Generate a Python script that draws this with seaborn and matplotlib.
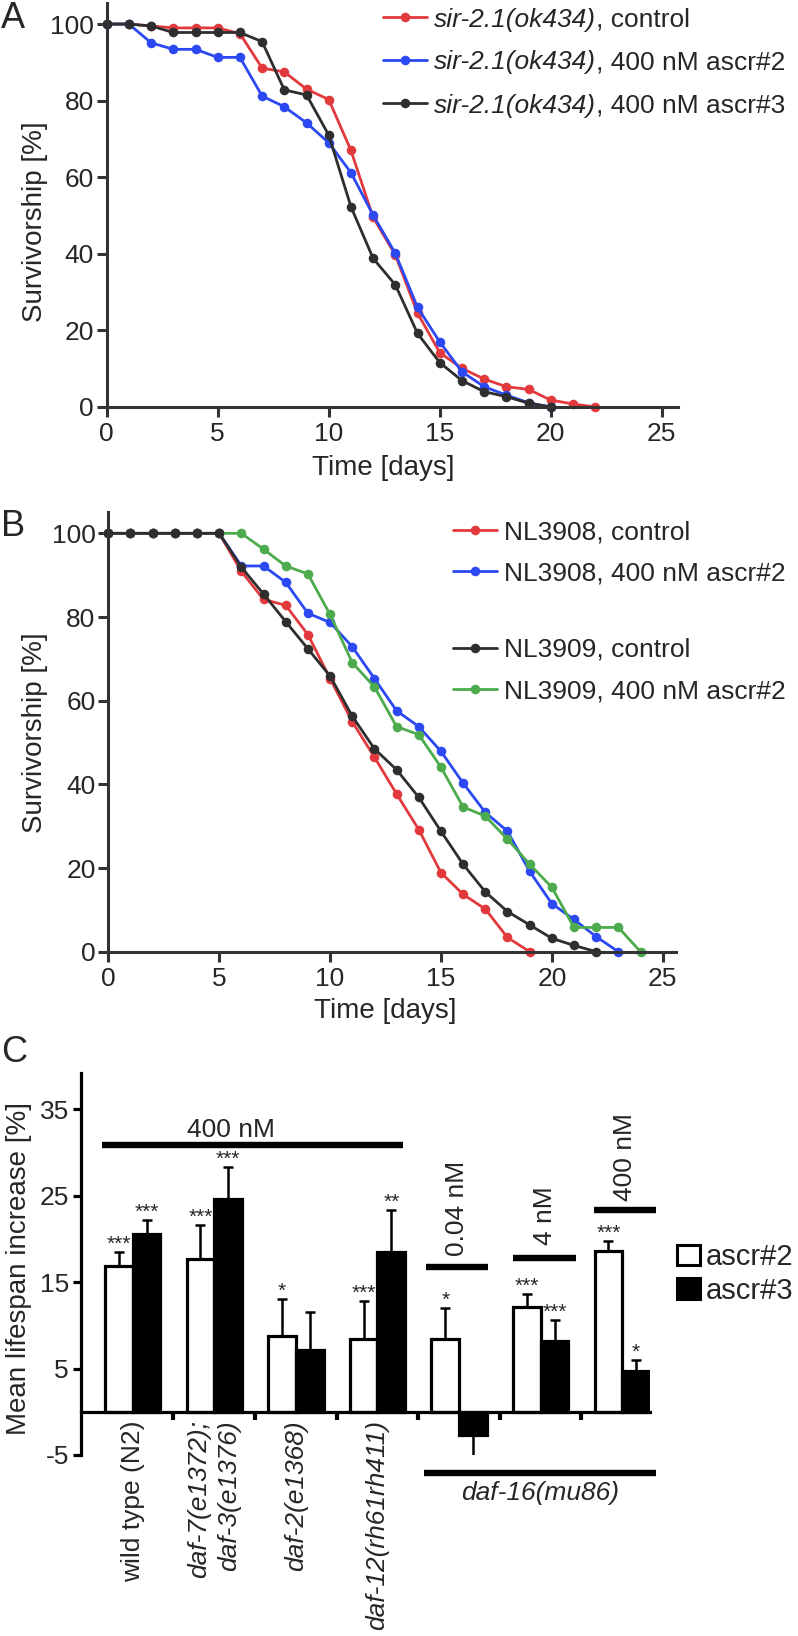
import pandas as pd
import matplotlib
matplotlib.use('Agg')
import matplotlib.pyplot as plt
import seaborn as sns
from matplotlib.lines import Line2D
from matplotlib.patches import Patch

sns.set_style('ticks')
plt.rcParams['font.family'] = ['Liberation Sans', 'DejaVu Sans']
plt.rcParams['axes.unicode_minus'] = False

# Panel A: sir-2.1(ok434) survival curves
days_a_ctrl = list(range(0, 23))
sir_control = [100, 100, 99.5, 99, 99, 99, 97.5, 88.5, 87.5, 83, 80.3, 67, 49.5,
               39.7, 24.5, 14.2, 10.1, 7.3, 5.3, 4.6, 1.8, 0.8, 0]
days_a = list(range(0, 21))
sir_ascr2 = [100, 100, 95.1, 93.4, 93.4, 91.3, 91.3, 81.2, 78.4, 74.2, 69, 61.2,
             50.1, 40.1, 26, 17, 9.2, 5.3, 3.1, 1.1, 0]
sir_ascr3 = [100, 100, 99.5, 97.8, 97.8, 97.8, 97.8, 95.4, 82.8, 81.5, 71, 52.3,
             38.8, 31.9, 19.2, 11.6, 6.9, 4, 2.7, 1, 0]

# Panel B: NL3908 / NL3909 survival curves
nl3908_ctrl = [100, 100, 100, 100, 100, 100, 90.9, 84.2, 82.8, 75.8, 65.3, 55,
               46.5, 37.7, 29.2, 18.9, 13.7, 10.2, 3.4, 0]
nl3908_ascr2 = [100, 100, 100, 100, 100, 100, 92.2, 92.2, 88.3, 80.9, 78.7, 72.9,
                65.3, 57.6, 53.8, 47.9, 40.3, 33.3, 28.8, 19.2, 11.5, 7.7, 3.6, 0]
nl3909_ctrl = [100, 100, 100, 100, 100, 100, 91.9, 85.5, 78.9, 72.4, 65.9, 56.3,
               48.5, 43.5, 36.9, 28.8, 20.9, 14.3, 9.6, 6.4, 3.2, 1.5, 0]
nl3909_ascr2 = [100, 100, 100, 100, 100, 100, 100, 96.2, 92.2, 90.3, 80.6, 69.1,
                63.3, 53.8, 51.9, 44.1, 34.6, 32.4, 26.9, 20.9, 15.4, 5.8, 5.8, 5.8, 0]

# Panel C: mean lifespan increase
groups = ['wild type (N2)', 'daf-7(e1372);\ndaf-3(e1376)', 'daf-2(e1368)',
          'daf-12(rh61rh411)', 'daf-16 0.04 nM', 'daf-16 4 nM', 'daf-16 400 nM']
tick_labels = ['wild type (N2)', 'daf-7(e1372);\ndaf-3(e1376)', 'daf-2(e1368)',
               'daf-12(rh61rh411)']
ascr2_mean = [16.9, 17.7, 8.8, 8.4, 8.4, 12.1, 18.6]
ascr2_err = [1.6, 3.9, 4.3, 4.4, 3.6, 1.5, 1.2]
ascr3_mean = [20.6, 24.6, 7.1, 18.5, -2.7, 8.2, 4.7]
ascr3_err = [1.6, 3.7, 4.5, 4.8, 2.6, 2.4, 1.3]
ascr2_stars = ['***', '***', '*', '***', '*', '***', '***']
ascr3_stars = ['***', '***', '', '**', '', '***', '*']

RED = '#e23a3c'
BLUE = '#2b48f2'
DARK = '#2e2e2e'
GREEN = '#4cab4c'
AXC = '#333333'

W, H = 798, 1636
fig = plt.figure(figsize=(W / 100, H / 100), dpi=100)
axA = fig.add_axes([106.7 / W, 1 - 407 / H, (678 - 106.7) / W, 404 / H])
axB = fig.add_axes([108.3 / W, 1 - 951.7 / H, (676 - 108.3) / W, (951.7 - 512) / H])
axC = fig.add_axes([80.7 / W, 1 - 1455 / H, (650 - 80.7) / W, (1455 - 1073) / H])

line_kw = dict(marker='o', markersize=6.9, markeredgewidth=0, linewidth=2.0, clip_on=False)

# --- A
sns.lineplot(x=days_a_ctrl, y=sir_control, color=RED, ax=axA, **line_kw)
sns.lineplot(x=days_a, y=sir_ascr2, color=BLUE, ax=axA, **line_kw)
sns.lineplot(x=days_a, y=sir_ascr3, color=DARK, ax=axA, **line_kw)

# --- B
sns.lineplot(x=list(range(len(nl3908_ctrl))), y=nl3908_ctrl, color=RED, ax=axB, **line_kw)
sns.lineplot(x=list(range(len(nl3908_ascr2))), y=nl3908_ascr2, color=BLUE, ax=axB, **line_kw)
sns.lineplot(x=list(range(len(nl3909_ascr2))), y=nl3909_ascr2, color=GREEN, ax=axB, **line_kw)
sns.lineplot(x=list(range(len(nl3909_ctrl))), y=nl3909_ctrl, color=DARK, ax=axB, **line_kw)

for ax, xmax, ymax in [(axA, 25.73, 105.5), (axB, 25.6, 105.1)]:
    ax.set_xlim(0, xmax)
    ax.set_ylim(0, ymax)
    ax.set_xticks([0, 5, 10, 15, 20, 25])
    ax.set_yticks([0, 20, 40, 60, 80, 100])
    for s in ['top', 'right']:
        ax.spines[s].set_visible(False)
    for s in ['left', 'bottom']:
        ax.spines[s].set_linewidth(2.2)
        ax.spines[s].set_color(AXC)
    ax.tick_params(axis='both', length=7.2, width=2.2, color=AXC, labelsize=19)
    ax.tick_params(axis='x', pad=3.6)
    ax.tick_params(axis='y', pad=2.0)
    ax.set_xlabel('Time [days]', fontsize=20)
    ax.set_ylabel('Survivorship [%]', fontsize=20)

axA.yaxis.set_label_coords(-0.1027, 0.459)
axA.xaxis.set_label_coords(0.484, -0.119)
axB.yaxis.set_label_coords(-0.106, 0.498)
axB.xaxis.set_label_coords(0.488, -0.106)

def handle(c):
    return Line2D([], [], color=c, marker='o', markersize=6.9, markeredgewidth=0, linewidth=2.0)

leg_kw = dict(loc='upper left', bbox_transform=fig.transFigure, frameon=False,
              fontsize=19, handlelength=1.67, handletextpad=0.25,
              borderpad=0, borderaxespad=0)

# legend A: italic strain name followed by upright treatment text
legA = axA.legend([handle(RED), handle(BLUE), handle(DARK)], ['sir-2.1(ok434)'] * 3,
                  bbox_to_anchor=(383 / W, 1 - 7.5 / H), labelspacing=0.72, **leg_kw)
for t, rest in zip(legA.get_texts(), [', control', ', 400 nM ascr#2', ', 400 nM ascr#3']):
    t.set_fontstyle('italic')
    axA.annotate(rest, xy=(1, 0), xycoords=t, ha='left', va='bottom', fontsize=19,
                 annotation_clip=False, zorder=6)

leg1 = axB.legend([handle(RED), handle(BLUE)], ['NL3908, control', 'NL3908, 400 nM ascr#2'],
                  bbox_to_anchor=(453 / W, 1 - 520.5 / H), labelspacing=0.65, **leg_kw)
axB.add_artist(leg1)
axB.legend([handle(DARK), handle(GREEN)], ['NL3909, control', 'NL3909, 400 nM ascr#2'],
           bbox_to_anchor=(453 / W, 1 - 638 / H), labelspacing=0.65, **leg_kw)

# --- C
df = pd.DataFrame({'group': groups * 2,
                   'value': ascr2_mean + ascr3_mean,
                   'treatment': ['ascr#2'] * len(groups) + ['ascr#3'] * len(groups)})
sns.barplot(data=df, x='group', y='value', hue='treatment', order=groups,
            hue_order=['ascr#2', 'ascr#3'], palette={'ascr#2': 'white', 'ascr#3': 'black'},
            saturation=1, edgecolor='black', linewidth=2.3, width=0.68, errorbar=None,
            legend=False, ax=axC)

off = 0.17
for i in range(len(groups)):
    for dx, m, e, st in [(-off, ascr2_mean[i], ascr2_err[i], ascr2_stars[i]),
                         (off, ascr3_mean[i], ascr3_err[i], ascr3_stars[i])]:
        lo, hi = (e, 0) if m < 0 else (0, e)
        axC.errorbar(i + dx, m, yerr=[[lo], [hi]], fmt='none', ecolor='black',
                     elinewidth=1.8, capsize=3.5, capthick=1.8, zorder=1)
        if st:
            axC.text(i + dx, m + e + 0.25, st, ha='center', va='baseline', fontsize=15)

axC.set_xlim(-0.637, 6.34)
axC.set_ylim(-5, 39.2)
axC.set_yticks([-5, 5, 15, 25, 35])
axC.spines['bottom'].set_position(('data', 0))
for s in ['top', 'right']:
    axC.spines[s].set_visible(False)
for s in ['left', 'bottom']:
    axC.spines[s].set_linewidth(2.3)
    axC.spines[s].set_color('black')
axC.set_xticks([0.5, 1.5, 2.5, 3.5, 4.5, 5.5])
axC.set_xticklabels([''] * 6)
axC.set_xticks([0, 1, 2, 3], labels=tick_labels, minor=True)
axC.tick_params(axis='x', which='major', length=6, width=3, color='black')
axC.tick_params(axis='x', which='minor', length=0, pad=6, labelsize=19, labelrotation=90)
axC.tick_params(axis='y', length=6, width=2.3, color='black', pad=2.5, labelsize=19)
for k, lbl in enumerate(axC.get_xticklabels(minor=True)):
    lbl.set_va('top')
    lbl.set_ha('center')
    lbl.set_multialignment('right')
    lbl.set_linespacing(1.3)
    if k > 0:
        lbl.set_fontstyle('italic')
axC.set_xlabel('')
axC.set_ylabel('Mean lifespan increase [%]', fontsize=20)
axC.yaxis.set_label_coords(-0.086, 0.488)

bar_kw = dict(color='black', linewidth=4.6, solid_capstyle='butt', clip_on=False)
axC.plot([-0.38, 3.31], [30.9, 30.9], **bar_kw)
axC.text(1.2, 31.85, '400 nM', ha='center', va='baseline', fontsize=19)
for x0, x1, y, xt, yt, txt in [(3.60, 4.35, 16.8, 3.97, 18.0, '0.04 nM'),
                               (4.66, 5.43, 17.8, 5.05, 19.3, '4 nM'),
                               (5.65, 6.41, 23.3, 6.03, 24.4, '400 nM')]:
    axC.plot([x0, x1], [y, y], **bar_kw)
    axC.text(xt, yt, txt, rotation=90, ha='center', va='bottom', fontsize=19)
axC.plot([3.57, 6.41], [-7.06, -7.06], **bar_kw)
axC.text(4.99, -9.4, 'daf-16(mu86)', ha='center', va='center', fontsize=19,
         fontstyle='italic', clip_on=False)

axC.legend([Patch(facecolor='white', edgecolor='black', linewidth=2.2),
            Patch(facecolor='black', edgecolor='black', linewidth=2.2)],
           ['ascr#2', 'ascr#3'], loc='upper left', bbox_to_anchor=(677 / W, 1 - 1243 / H),
           bbox_transform=fig.transFigure, frameon=False, fontsize=21,
           handlelength=0.8, handleheight=0.7, handletextpad=0.2, labelspacing=0.2,
           borderpad=0, borderaxespad=0)

for txt, yy in [('A', 18), ('B', 526), ('C', 1053)]:
    fig.text(1 / W, 1 - yy / H, txt, fontsize=26, ha='left', va='center')

fig.savefig('out.png', dpi=100)
